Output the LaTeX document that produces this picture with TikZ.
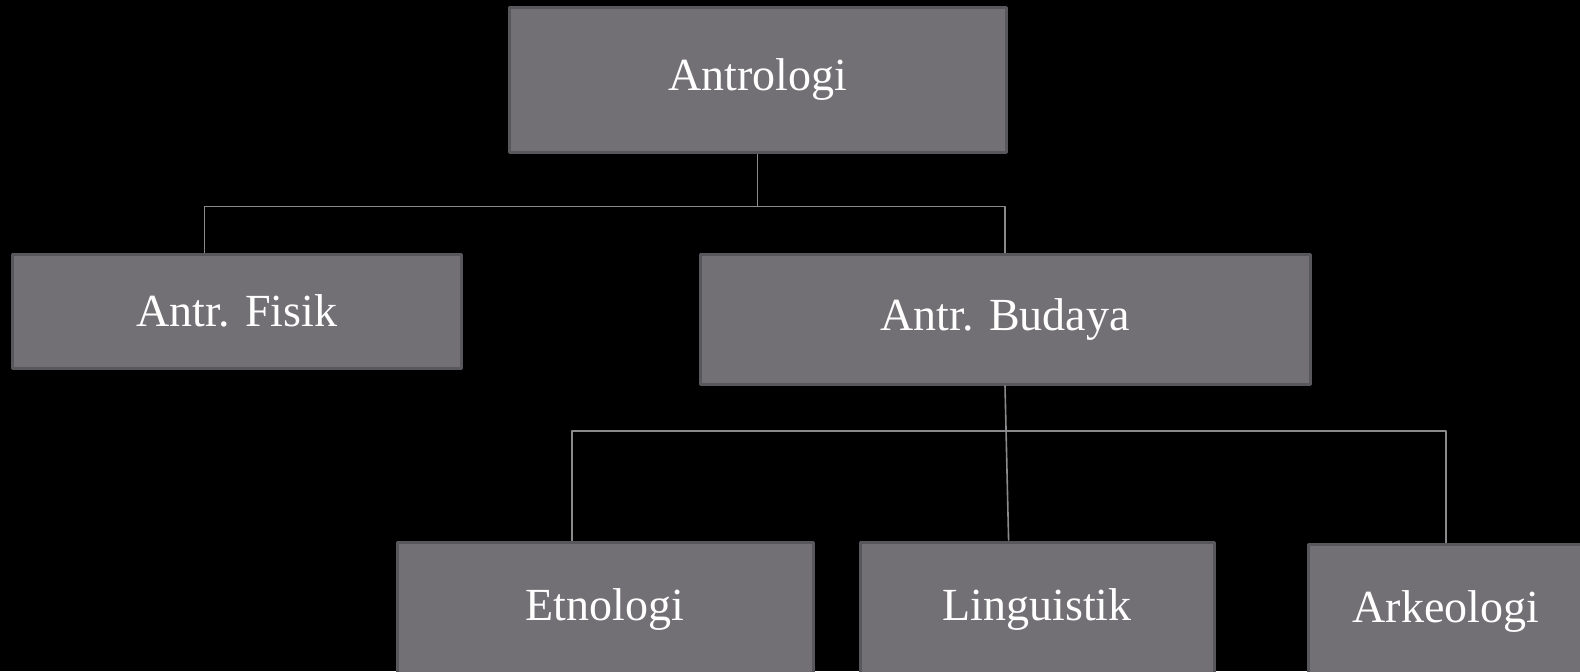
\documentclass[tikz,border=0pt]{standalone}
\usepackage{fontspec}
\setmainfont{Liberation Serif}
\definecolor{boxgray}{RGB}{114,112,117}
\definecolor{boxedge}{RGB}{88,87,91}
\definecolor{connline}{RGB}{138,137,140}
\begin{document}
\begin{tikzpicture}[x=0.5pt, y=-0.5pt, line join=round,
	box/.style={draw=boxedge, line width=1.5pt, fill=boxgray, text=white,
		font=\fontsize{23}{28}\selectfont, inner sep=0pt},
	conn/.style={draw=connline, line width=0.8pt}]
	\fill[black] (0,0) rectangle (1580,671);
	\useasboundingbox (0,0) rectangle (1580,671);
	% kotak
	\node[box, minimum width=248.5pt, minimum height=72.5pt] (antro) at (757.5,79.5) {Antrologi};
	\node[box, minimum width=224.5pt, minimum height=57pt] (fisik) at (237,311) {Antr. Fisik};
	\node[box, minimum width=305pt, minimum height=65pt] (budaya) at (1005,319) {Antr. Budaya};
	\node[box, minimum width=208pt, minimum height=67.5pt] (etno) at (605,609.5) {Etnologi};
	\node[box, minimum width=177pt, minimum height=67.5pt] (ling) at (1037,609.5) {Linguistik};
	\node[box, minimum width=138pt, minimum height=67.5pt] (ark) at (1446,611.5) {Arkeologi};
	% garis
	\coordinate (hubA) at (757.5,206.5);
	\coordinate (hubB) at (1006.6,431);
	\draw[conn] (antro.south) -- (hubA);
	\draw[conn] ([xshift=-16.25pt]fisik.north) |- (hubA) -| (budaya.north);
	\draw[conn] (budaya.south) -- ([xshift=-14.2pt]ling.north);
	\draw[conn] ([xshift=-16.5pt]etno.north) |- (hubB) -| (ark.north);
\end{tikzpicture}
\end{document}
